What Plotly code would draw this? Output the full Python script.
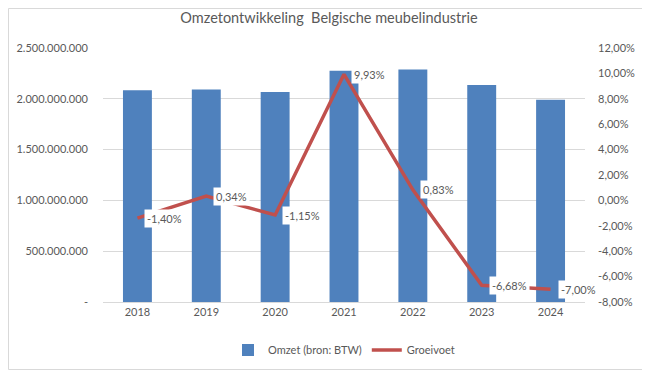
import plotly.graph_objects as go

years = ["2018", "2019", "2020", "2021", "2022", "2023", "2024"]
omzet = [2085000000, 2092000000, 2066000000, 2275000000, 2288000000, 2137000000, 1990000000]
groeivoet = [-1.40, 0.34, -1.15, 9.93, 0.83, -6.68, -7.00]
groei_labels = ["-1,40%", "0,34%", "-1,15%", "9,93%", "0,83%", "-6,68%", "-7,00%"]

left_ticks = [0, 500000000, 1000000000, 1500000000, 2000000000, 2500000000]
left_text = ["-", "500.000.000", "1.000.000.000", "1.500.000.000", "2.000.000.000", "2.500.000.000"]
right_ticks = [-8, -6, -4, -2, 0, 2, 4, 6, 8, 10, 12]
right_text = ["-8,00%", "-6,00%", "-4,00%", "-2,00%", "0,00%", "2,00%", "4,00%", "6,00%", "8,00%", "10,00%", "12,00%"]

GRAY = "#595959"
FONT = "Lato"

W, H = 642, 362
ML, MR, MT, MB = 95, 65, 40, 68
PW, PH = W - ML - MR, H - MT - MB

fig = go.Figure()
fig.add_trace(go.Bar(
    x=years, y=omzet, name="Omzet (bron: BTW)",
    marker=dict(color="#4F81BD", line=dict(width=0)),
    width=0.42, yaxis="y",
))
fig.add_trace(go.Scatter(
    x=years, y=groeivoet, name="Groeivoet", mode="lines",
    line=dict(color="#C0504D", width=3.5), yaxis="y2",
))

for i, (v, t) in enumerate(zip(groeivoet, groei_labels)):
    fig.add_annotation(
        x=i, y=v, xref="x", yref="y2", text=t, showarrow=False,
        xanchor="left", yanchor="middle", xshift=7, yshift=0,
        bgcolor="white", borderpad=2,
        font=dict(family=FONT, size=11, color=GRAY),
    )

fig.update_layout(
    width=W, height=H,
    margin=dict(l=ML, r=MR, t=MT, b=MB, autoexpand=False),
    paper_bgcolor="white", plot_bgcolor="white",
    title=dict(text="Omzetontwikkeling  Belgische meubelindustrie", x=0.5, xanchor="center",
               y=1 - 10 / H, yanchor="middle",
               font=dict(family=FONT, size=14.5, color=GRAY)),
    font=dict(family=FONT, size=11, color=GRAY),
    xaxis=dict(type="category", range=[-0.5, 6.5], showgrid=False, showline=True,
               linecolor="#D9D9D9", linewidth=1,
               ticks="", tickfont=dict(family=FONT, size=11, color=GRAY)),
    yaxis=dict(range=[0, 2500000000], tickvals=left_ticks, ticktext=left_text,
               showgrid=True, gridcolor="#D9D9D9", gridwidth=1, zeroline=False,
               showline=False, ticks="", ticklabelstandoff=14,
               tickfont=dict(family=FONT, size=11, color=GRAY)),
    yaxis2=dict(range=[-8, 12], tickvals=right_ticks, ticktext=right_text,
                overlaying="y", side="right", showgrid=False, zeroline=False,
                showline=False, ticks="", ticklabelstandoff=12,
                tickfont=dict(family=FONT, size=11, color=GRAY)),
    legend=dict(orientation="h", x=0.5, xanchor="center", yref="container", y=20 / H,
                yanchor="middle", itemwidth=30,
                font=dict(family=FONT, size=11, color=GRAY), traceorder="normal"),
    showlegend=True,
)

fig.add_shape(type="rect", xref="paper", yref="paper",
              x0=-(ML - 0.5) / PW, x1=(W - ML - 0.5) / PW,
              y0=-(MB - 0.5) / PH, y1=(H - MB - 0.5) / PH,
              line=dict(color="#D9D9D9", width=1), fillcolor="rgba(0,0,0,0)", layer="below")

fig.write_html("out.html")
